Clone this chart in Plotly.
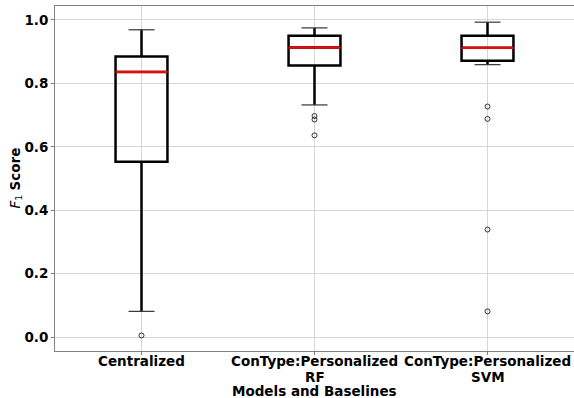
import plotly.graph_objects as go

categories = ["Centralized", "ConType:Personalized<br>RF", "ConType:Personalized<br>SVM"]
positions = [1, 2, 3]
q1 = [0.553, 0.856, 0.871]
median = [0.836, 0.913, 0.912]
q3 = [0.885, 0.950, 0.950]
lower_whisker = [0.081, 0.732, 0.859]
upper_whisker = [0.969, 0.975, 0.993]
outliers = [
    [0.005],
    [0.697, 0.686, 0.636],
    [0.727, 0.688, 0.339, 0.081],
]
yticks = [0.0, 0.2, 0.4, 0.6, 0.8, 1.0]
ytick_text = ["0.0", "0.2", "0.4", "0.6", "0.8", "1.0"]
x_title = "Models and Baselines"
y_title = "<i>F</i><sub>1</sub> <b>Score</b>"

box_width = 0.3
cap_half = 0.075
FONT = "DejaVu Sans"

fig = go.Figure()

fig.add_trace(go.Box(
    x=positions, q1=q1, median=median, q3=q3,
    lowerfence=lower_whisker, upperfence=upper_whisker,
    width=box_width, whiskerwidth=0,
    fillcolor="rgba(0,0,0,0)",
    line=dict(color="black", width=2.5),
    boxpoints=False, showlegend=False, hoverinfo="skip",
))

# caps
cx, cy = [], []
for p, lo, hi in zip(positions, lower_whisker, upper_whisker):
    cx += [p - cap_half, p + cap_half, None, p - cap_half, p + cap_half, None]
    cy += [lo, lo, None, hi, hi, None]
fig.add_trace(go.Scatter(x=cx, y=cy, mode="lines",
                         line=dict(color="#333333", width=1.2),
                         showlegend=False, hoverinfo="skip"))

# medians
mx, my = [], []
for p, m in zip(positions, median):
    mx += [p - box_width / 2, p + box_width / 2, None]
    my += [m, m, None]
fig.add_trace(go.Scatter(x=mx, y=my, mode="lines",
                         line=dict(color="red", width=2.2),
                         showlegend=False, hoverinfo="skip"))

# outliers
ox, oy = [], []
for p, vals in zip(positions, outliers):
    for v in vals:
        ox.append(p)
        oy.append(v)
fig.add_trace(go.Scatter(x=ox, y=oy, mode="markers",
                         marker=dict(symbol="circle-open", size=5,
                                     color="#333333", line=dict(width=1)),
                         showlegend=False, hoverinfo="skip"))

annotations = [
    dict(text=f"<b>{x_title}</b>", xref="paper", yref="paper",
         x=0.5, y=0, yshift=-40, showarrow=False, borderpad=0,
         xanchor="center", yanchor="middle",
         font=dict(family=FONT, size=13.5, color="black")),
    dict(text=y_title, xref="paper", yref="paper",
         x=0, y=0.5, xshift=-40, showarrow=False, textangle=-90,
         xanchor="center", yanchor="middle",
         font=dict(family=FONT, size=13.5, color="black")),
]
for p, c in zip(positions, categories):
    for i, line in enumerate(c.split("<br>")):
        annotations.append(dict(
            text=f"<b>{line}</b>",
            xref="x", yref="paper", x=p, y=0, yshift=-10 - 15.5 * i,
            showarrow=False, borderpad=0, xanchor="center", yanchor="middle",
            font=dict(family=FONT, size=13.5, color="black")))

fig.update_layout(
    width=574, height=398,
    margin=dict(l=55, r=0, t=6, b=47, autoexpand=False),
    paper_bgcolor="white", plot_bgcolor="white",
    font=dict(family=FONT, size=13.5, color="black"),
    xaxis=dict(
        range=[0.5, 3.5], tickvals=positions, ticktext=["", "", ""],
        showgrid=True, gridcolor="#d6d6d6", gridwidth=1,
        showline=True, linecolor="#808080", linewidth=1, mirror=True,
        ticks="outside", ticklen=3, tickcolor="#808080",
        zeroline=False, automargin=False,
    ),
    yaxis=dict(
        range=[-0.044, 1.044], tickvals=yticks, ticktext=ytick_text,
        tickfont=dict(family=FONT, size=13.5, color="black", weight="bold"),
        showgrid=True, gridcolor="#d6d6d6", gridwidth=1,
        showline=True, linecolor="#808080", linewidth=1,
        ticks="outside", ticklen=3, tickcolor="#808080",
        zeroline=False, automargin=False,
    ),
    annotations=annotations,
)

fig.write_html("out.html", config={"displayModeBar": False},
               post_script="document.body.style.margin='0';document.body.style.overflow='hidden';")
